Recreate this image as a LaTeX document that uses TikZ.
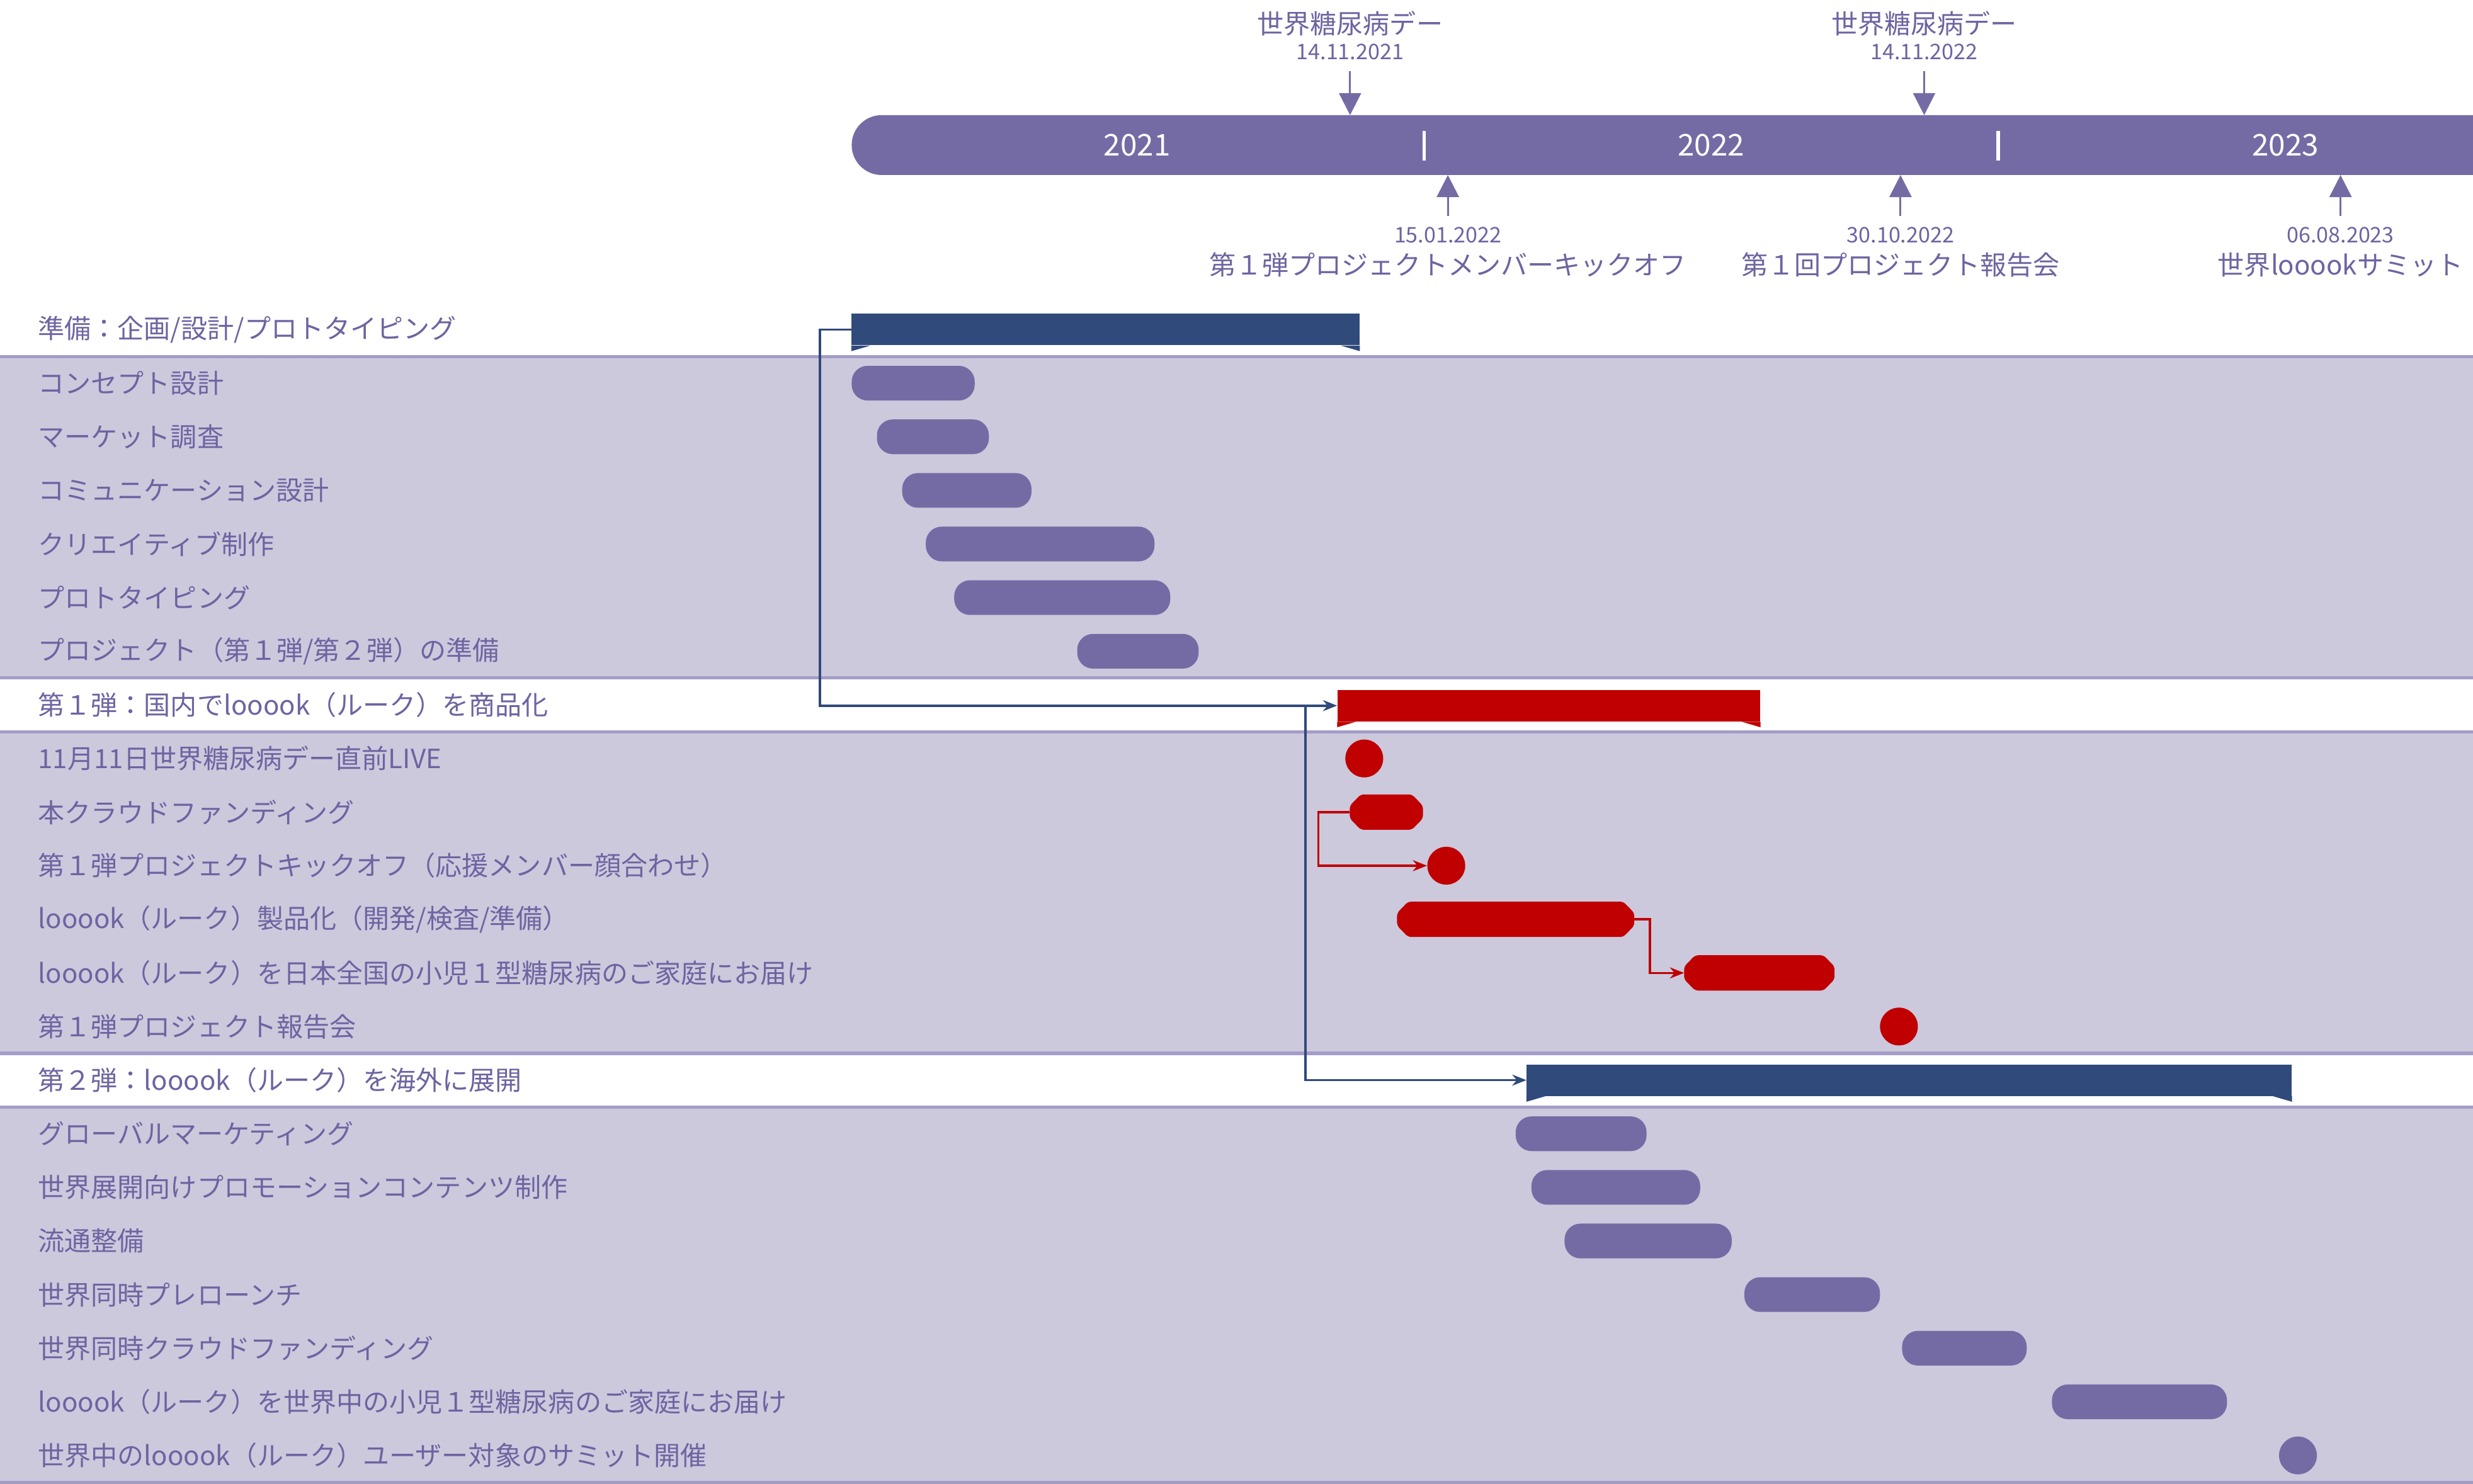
\documentclass[tikz,border=0pt]{standalone}
\usepackage{fontspec}
\setmainfont{Noto Sans CJK JP}
\usepackage{tikz}
\usetikzlibrary{arrows.meta, calc, positioning}
\definecolor{lavender}{HTML}{CCC9DD}
\definecolor{rulecol}{HTML}{A39DC6}
\definecolor{plum}{HTML}{756BA4}
\definecolor{navy}{HTML}{2F4A7B}
\definecolor{crimson}{HTML}{C00000}
\definecolor{ink}{HTML}{6D64A1}
\tikzset{
  rowlabel/.style={
    anchor=west, inner sep=0pt, text=ink,
    font=\fontsize{16.8pt}{20pt}\selectfont
  },
  msname/.style={
    inner sep=0pt, text=ink, font=\fontsize{16.8pt}{20pt}\selectfont
  },
  msdate/.style={
    inner sep=0pt, text=ink, font=\fontsize{13.6pt}{16pt}\selectfont
  },
  year/.style={
    inner sep=0pt, text=white, font=\fontsize{19pt}{22pt}\selectfont
  }
}

\begin{document}
\begin{tikzpicture}[
  x=1pt, y=-1pt,
  task/.style={fill=plum, rounded corners=10pt, minimum height=22pt, inner sep=0pt},
  redtask/.style={rectangle, minimum height=22pt, inner sep=0pt},
  summary/.style={rectangle, minimum height=20pt, inner sep=0pt},
  dot/.style={circle, minimum size=24pt, inner sep=0pt},
  link/.style={-{Stealth[length=9pt,width=7pt]}, line width=1.4pt, color=navy},
  redlink/.style={-{Stealth[length=9pt,width=7pt]}, line width=1.4pt, color=crimson},
  pin/.style={-{Triangle[length=14pt,width=14pt]}, line width=1.2pt, color=plum}
]
\useasboundingbox (0,0) rectangle (1568,941.1);

% Bands and rules
\fill[lavender] (0,226) rectangle (1568,430);
\fill[lavender] (0,464) rectangle (1568,668);
\fill[lavender] (0,702) rectangle (1568,940);
\draw[rulecol, line width=2pt] (0,226) -- (1568,226);
\draw[rulecol, line width=2pt] (0,430) -- (1568,430);
\draw[rulecol, line width=2pt] (0,464) -- (1568,464);
\draw[rulecol, line width=2pt] (0,668) -- (1568,668);
\draw[rulecol, line width=2pt] (0,702) -- (1568,702);
\draw[rulecol, line width=2pt] (0,940) -- (1568,940);

% Timeline
\fill[plum] (1568,73) [rounded corners=19pt] -- (540,73) -- (540,111)
  [sharp corners] -- (1568,111) -- cycle;
\node[year] (y2021) at (721,92) {2021};
\node[year] (y2022) at (1085,92) {2022};
\node[year] (y2023) at (1449,92) {2023};
\draw[white, line width=2.2pt] (903,83) -- (903,102);
\draw[white, line width=2.2pt] (1267,83) -- (1267,102);

% Milestones above
\node[msname] (wdd1) at (856,15) {世界糖尿病デー};
\node[msdate] (wdd1date) at (856,33) {14.11.2021};
\node[msname] (wdd2) at (1220,15) {世界糖尿病デー};
\node[msdate] (wdd2date) at (1220,33) {14.11.2022};
\coordinate (wdd1tick) at (856,73);
\coordinate (wdd2tick) at (1220,73);
\draw[pin] (wdd1date.south) ++(0,7) -- (wdd1tick);
\draw[pin] (wdd2date.south) ++(0,7) -- (wdd2tick);

% Milestones below
\node[msdate] (kickdate) at (918,149) {15.01.2022};
\node[msname] (kickname) at (918,168) {第１弾プロジェクトメンバーキックオフ};
\node[msdate] (repdate) at (1205,149) {30.10.2022};
\node[msname] (repname) at (1205,168) {第１回プロジェクト報告会};
\node[msdate] (sumdate) at (1484,149) {06.08.2023};
\node[msname] (sumname) at (1484,168) {世界looookサミット};
\coordinate (kicktick) at (918,111);
\coordinate (reptick) at (1205,111);
\coordinate (sumtick) at (1484,111);
\draw[pin] (kickdate.north) ++(0,-7) -- (kicktick);
\draw[pin] (repdate.north) ++(0,-7) -- (reptick);
\draw[pin] (sumdate.north) ++(0,-7) -- (sumtick);

% Row labels
\node[rowlabel] (lprep) at (24,209) {準備：企画/設計/プロトタイピング};
\node[rowlabel] (lconcept) at (24,243) {コンセプト設計};
\node[rowlabel] (lmarket) at (24,277) {マーケット調査};
\node[rowlabel] (lcomm) at (24,311) {コミュニケーション設計};
\node[rowlabel] (lcreative) at (24,345) {クリエイティブ制作};
\node[rowlabel] (lproto) at (24,379) {プロトタイピング};
\node[rowlabel] (lsetup) at (24,413) {プロジェクト（第１弾/第２弾）の準備};
\node[rowlabel] (lph1) at (24,447) {第１弾：国内でlooook（ルーク）を商品化};
\node[rowlabel] (llive) at (24,481) {11月11日世界糖尿病デー直前LIVE};
\node[rowlabel] (lcrowd) at (24,515) {本クラウドファンディング};
\node[rowlabel] (lkick) at (24,549) {第１弾プロジェクトキックオフ（応援メンバー顔合わせ）};
\node[rowlabel] (lprod) at (24,583) {looook（ルーク）製品化（開発/検査/準備）};
\node[rowlabel] (ldeliv) at (24,617) {looook（ルーク）を日本全国の小児１型糖尿病のご家庭にお届け};
\node[rowlabel] (lreport) at (24,651) {第１弾プロジェクト報告会};
\node[rowlabel] (lph2) at (24,685) {第２弾：looook（ルーク）を海外に展開};
\node[rowlabel] (lglobal) at (24,719) {グローバルマーケティング};
\node[rowlabel] (lpromo) at (24,753) {世界展開向けプロモーションコンテンツ制作};
\node[rowlabel] (ldist) at (24,787) {流通整備};
\node[rowlabel] (lprelaunch) at (24,821) {世界同時プレローンチ};
\node[rowlabel] (lwcrowd) at (24,855) {世界同時クラウドファンディング};
\node[rowlabel] (lwdeliv) at (24,889) {looook（ルーク）を世界中の小児１型糖尿病のご家庭にお届け};
\node[rowlabel] (lsummit) at (24,923) {世界中のlooook（ルーク）ユーザー対象のサミット開催};

% Preparation bars
\node[summary, fill=navy, minimum width=322pt] (prep) at (701,209) {};
\fill[navy] (prep.south west) -- ++(0,3.5) -- ++(12,-3.5) -- cycle;
\fill[navy] (prep.south east) -- ++(0,3.5) -- ++(-12,-3.5) -- cycle;
\node[task, minimum width=78pt] (concept) at (579,243) {};
\node[task, minimum width=71pt] (market) at (591.5,277) {};
\node[task, minimum width=82pt] (comm) at (613,311) {};
\node[task, minimum width=145pt] (creative) at (659.5,345) {};
\node[task, minimum width=137pt] (proto) at (673.5,379) {};
\node[task, minimum width=77pt] (setup) at (721.5,413) {};

% Phase 1 bars
\node[summary, fill=crimson, minimum width=268pt] (ph1) at (982,447.5) {};
\fill[crimson] (ph1.south west) -- ++(0,3.5) -- ++(12,-3.5) -- cycle;
\fill[crimson] (ph1.south east) -- ++(0,3.5) -- ++(-12,-3.5) -- cycle;
\node[dot, fill=crimson] (live) at (865,481) {};
\node[redtask, minimum width=46pt] (crowd) at (879,515) {};
\node[dot, fill=crimson] (kick) at (917,549) {};
\node[redtask, minimum width=150pt] (prod) at (961,583) {};
\node[redtask, minimum width=95pt] (deliv) at (1115.5,617) {};
\node[dot, fill=crimson] (report) at (1204,651) {};
\foreach \t in {crowd, prod, deliv}
  \fill[crimson, rounded corners=2pt]
    ($(\t.north west)+(7,0)$) -- ($(\t.north east)+(-7,0)$)
    -- ($(\t.east)+(0,-4)$) -- ($(\t.east)+(0,4)$)
    -- ($(\t.south east)+(-7,0)$) -- ($(\t.south west)+(7,0)$)
    -- ($(\t.west)+(0,4)$) -- ($(\t.west)+(0,-4)$) -- cycle;

% Phase 2 bars
\node[summary, fill=navy, minimum width=485pt] (ph2) at (1210.5,685) {};
\fill[navy] (ph2.south west) -- ++(0,3.5) -- ++(12,-3.5) -- cycle;
\fill[navy] (ph2.south east) -- ++(0,3.5) -- ++(-12,-3.5) -- cycle;
\node[task, minimum width=83pt] (global) at (1002.5,719) {};
\node[task, minimum width=107pt] (promo) at (1024.5,753) {};
\node[task, minimum width=106pt] (dist) at (1045,787) {};
\node[task, minimum width=86pt] (prelaunch) at (1149,821) {};
\node[task, minimum width=79pt] (wcrowd) at (1245.5,855) {};
\node[task, minimum width=111pt] (wdeliv) at (1356.5,889) {};
\node[dot, fill=plum] (summit) at (1457,923) {};

% Links
\draw[link] (prep.west) -- ++(-20,0) |- (ph1.west);
\draw[link] (prep.west) -- ++(-20,0) |- ([xshift=-20pt]ph1.west) |- (ph2.west);
\draw[redlink] (crowd.west) -- ++(-20,0) |- (kick.west);
\draw[redlink] (prod.east) -- ++(10,0) |- (deliv.west);

\end{tikzpicture}
\end{document}
